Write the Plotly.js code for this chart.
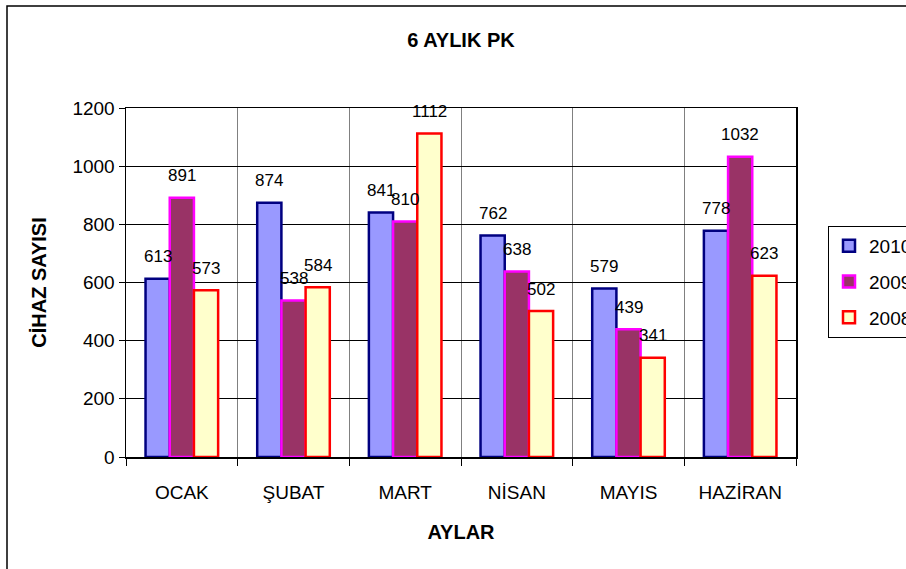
<!DOCTYPE html>
<html>
<head>
<meta charset="utf-8">
<script src="https://cdn.plot.ly/plotly-3.0.1.min.js"></script>
<style>html,body{margin:0;padding:0;background:#fff;}#chart{width:906px;height:569px;}</style>
</head>
<body>
<div id="chart"></div>
<script>
const categories = ["OCAK", "ŞUBAT", "MART", "NİSAN", "MAYIS", "HAZİRAN"];
const seriesNames = ["2010", "2009", "2008"];
const values2010 = [613, 874, 841, 762, 579, 778];
const values2009 = [891, 538, 810, 638, 439, 1032];
const values2008 = [573, 584, 1112, 502, 341, 623];
const yTicks = [0, 200, 400, 600, 800, 1000, 1200];

const allValues = [values2010, values2009, values2008];
const fills = ["#9999FF", "#993366", "#FFFFCC"];
const lines = ["#000080", "#FF00FF", "#FF0000"];
const FONT = "Liberation Sans, Arial, sans-serif";

const traces = allValues.map((vals, i) => ({
  type: "bar",
  name: seriesNames[i],
  x: categories,
  y: vals,
  marker: {color: fills[i], line: {color: lines[i], width: 2.5}},
  legendgroup: "g" + i,
  hoverinfo: "x+y+name"
}));

const W = 906, H = 569;
const margin = {l: 126, r: 110, t: 108, b: 112};
const plotW = W - margin.l - margin.r;
const catW = plotW / categories.length;
const barW = catW * 0.65 / 3;

const annotations = [];
allValues.forEach((vals, i) => {
  vals.forEach((v, j) => {
    annotations.push({
      x: categories[j], y: v, xref: "x", yref: "y",
      text: String(v), showarrow: false,
      xshift: (i - 1) * barW, yshift: 22,
      font: {family: FONT, size: 17, color: "#000"}
    });
  });
});

const plotH = H - margin.t - margin.b;
const layout = {
  width: W, height: H,
  margin: margin,
  paper_bgcolor: "#fff", plot_bgcolor: "#fff",
  font: {family: FONT, color: "#000"},
  barmode: "group", bargap: 0.35, bargroupgap: 0,
  title: {text: "<b>6 AYLIK PK</b>", x: 0.5, xref: "paper", y: 1 - 40 / H, yanchor: "middle",
          font: {family: FONT, size: 20, color: "#000"}},
  xaxis: {
    type: "category",
    tickson: "boundaries",
    ticks: "outside", ticklen: 7, tickcolor: "#000", tickwidth: 1,
    showgrid: true, gridcolor: "#808080", gridwidth: 1,
    showline: true, linecolor: "#000", linewidth: 1.5, mirror: true,
    tickfont: {family: FONT, size: 19, color: "#000"},
    ticklabelstandoff: 18,
    title: {text: "<b>AYLAR</b>", font: {family: FONT, size: 20, color: "#000"}, standoff: 22},
    zeroline: false
  },
  yaxis: {
    range: [0, 1200],
    tickvals: yTicks,
    ticks: "outside", ticklen: 6, tickcolor: "#000", tickwidth: 1,
    showgrid: true, gridcolor: "#000", gridwidth: 1,
    showline: true, linecolor: "#000", linewidth: 1.5, mirror: true,
    tickfont: {family: FONT, size: 19, color: "#000"},
    title: {text: "<b>CİHAZ SAYISI</b>", font: {family: FONT, size: 20, color: "#000"}, standoff: 20},
    zeroline: false
  },
  legend: {
    x: (828 - margin.l) / plotW, xanchor: "left",
    y: (H - margin.b - 226) / plotH, yanchor: "top",
    bordercolor: "#000", borderwidth: 1, bgcolor: "#fff",
    font: {family: FONT, size: 19, color: "#000"},
    traceorder: "grouped", tracegroupgap: 8
  },
  annotations: annotations,
  shapes: [{
    type: "rect", xref: "paper", yref: "paper",
    x0: (7 - margin.l) / plotW, x1: (W + 20 - margin.l) / plotW,
    y0: (H - margin.b - (H + 20)) / plotH, y1: (H - margin.b - 6) / plotH,
    line: {color: "#000", width: 1.5}, fillcolor: "rgba(0,0,0,0)", layer: "below"
  }],
  showlegend: true
};
layout.margin.autoexpand = false;

Plotly.newPlot("chart", traces, layout, {displayModeBar: false, staticPlot: true});
</script>
</body>
</html>
